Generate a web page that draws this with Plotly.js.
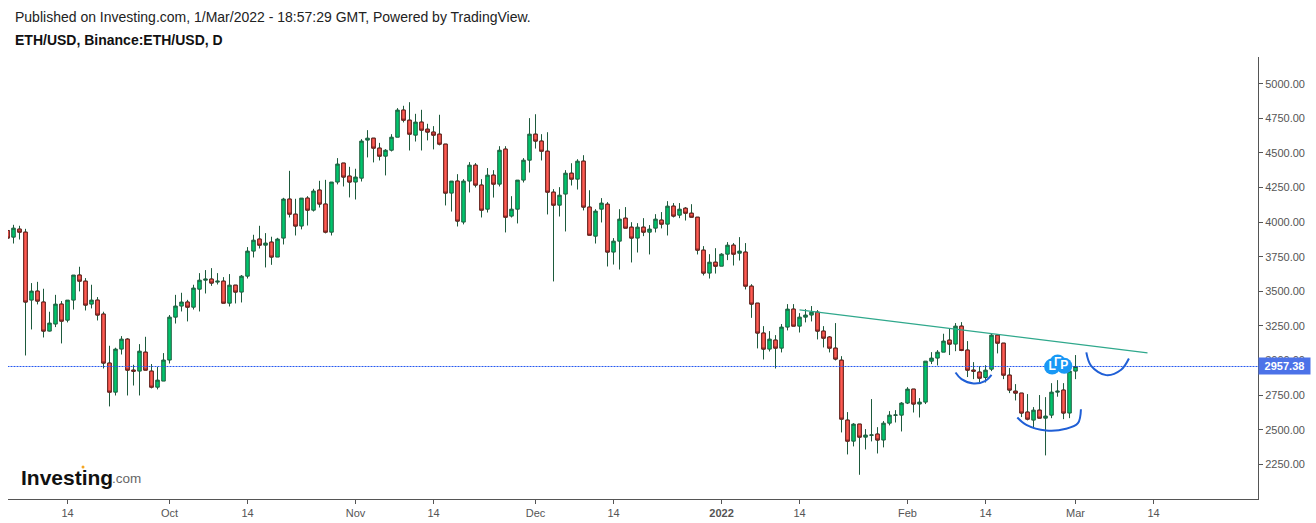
<!DOCTYPE html>
<html><head><meta charset="utf-8"><script src="https://cdn.plot.ly/plotly-3.0.1.min.js"></script>
<style>html,body{margin:0;padding:0;background:#fff}#c{width:1316px;height:523px}</style></head>
<body><div id="c"></div>
<script>
const startDay = '2021-09-04';
const opens = [3940,3892,3950,3928,3437,3502,3423,3213,3264,3408,3292,3437,3618,3574,3408,3437,3336,2982,2772,3083,3155,2931,2924,3061,2924,2808,2852,3004,3314,3394,3423,3386,3516,3581,3589,3567,3574,3415,3545,3495,3610,
3791,3878,3834,3856,3748,3885,4167,4058,3972,4174,4087,4232,4131,3928,4290,4427,4333,4290,4318,4593,4607,4535,4477,4520,4614,4810,4737,4629,4723,4672,4651,4636,4564,4210,4297,4001,4297,4412,4268,4094,
4340,4275,4528,4044,4094,4304,4448,4636,4586,4513,4217,4123,4203,4354,4311,4441,4109,3899,4094,4130,3784,3863,4029,3964,3885,3964,3928,3957,4015,3986,4116,4051,4101,4065,4036,3798,3632,3711,3682,3769,3834,3776,3784,
3538,3415,3199,3083,3148,3090,3242,3372,3249,3314,3329,3350,3213,3170,3090,3003,2570,2418,2541,2447,2460,2469,2426,2548,2605,2606,2693,2794,2686,2700,2996,3018,
3061,3148,3119,3249,3076,2931,2917,2878,2938,3184,3126,2895,2779,2765,2628,2570,2642,2584,2606,2772,2787,2621,2924];
const highs = [3950,3981,3974,3952,3560,3569,3519,3353,3475,3430,3437,3618,3678,3596,3548,3459,3353,3107,3093,3177,3162,2970,3119,3172,2975,2955,3054,3329,3475,3490,3439,3548,3632,3654,3668,3632,3603,3625,3545,3618,3820,
3909,3974,3921,3895,3887,4176,4371,4169,4174,4188,4241,4299,4306,4290,4463,4427,4400,4386,4600,4665,4607,4573,4528,4636,4824,4841,4867,4783,4812,4711,4694,4776,4564,4297,4347,4311,4434,4427,4311,4391,
4376,4549,4549,4188,4304,4463,4752,4780,4636,4650,4239,4253,4376,4426,4455,4484,4231,4094,4174,4145,3885,4094,4109,4000,3993,4029,3979,4058,4073,4152,4138,4138,4109,4130,4036,3827,3769,3812,3776,3856,3849,3892,3849,
3552,3415,3249,3213,3184,3264,3408,3408,3343,3372,3394,3365,3249,3177,3271,3032,2628,2548,2541,2505,2722,2519,2563,2635,2642,2700,2808,2794,2729,2996,3061,3076,
3194,3235,3271,3278,3141,2989,2960,2967,3198,3191,3126,2946,2830,2765,2758,2664,2751,2736,2837,2859,2837,2940,3040];
const lows = [3880,3846,3875,3037,3225,3406,3167,3210,3242,3124,3276,3369,3500,3362,3377,3290,2943,2669,2748,3044,2748,2820,2748,2931,2799,2792,2852,2979,3268,3355,3283,3369,3355,3485,3540,3550,3415,3391,3413,3420,3593,
3745,3810,3673,3692,3748,3839,4034,3904,3948,3976,4077,4106,3919,3904,4273,4258,4179,4164,4294,4468,4432,4446,4338,4511,4614,4721,4518,4583,4518,4591,4526,4555,4121,4077,3969,3984,4215,4251,4034,4070,
4178,4258,3926,4034,3991,4287,4359,4532,4446,4056,3572,4041,3933,4265,4236,4085,3906,3846,3998,3680,3694,3658,3957,3709,3781,3899,3767,3926,3955,3904,4034,4029,4012,4036,3767,3615,3593,3629,3682,3726,3687,3723,3514,
3309,3088,3008,3066,2943,3059,3218,3249,3203,3276,3283,3153,3095,3059,3001,2481,2322,2380,2175,2358,2416,2329,2373,2532,2553,2488,2686,2625,2589,2686,2975,2965,
3061,3040,3068,3068,2881,2866,2844,2842,2924,3052,2866,2765,2712,2592,2568,2510,2584,2315,2584,2739,2577,2584,2866];
const closes = [3885,3957,3928,3423,3502,3430,3213,3271,3408,3285,3437,3618,3574,3401,3437,3329,2982,2772,3083,3155,2931,2924,3068,2931,2808,2859,3004,3314,3394,3423,3386,3524,3581,3589,3560,3574,3415,3545,3495,3610,3791,
3870,3834,3849,3748,3878,4167,4058,3972,4174,4087,4225,4131,3928,4290,4420,4326,4290,4326,4586,4607,4535,4477,4520,4614,4810,4737,4636,4723,4665,4651,4629,4564,4210,4297,4008,4297,4412,4268,4087,4340,
4275,4520,4036,4094,4304,4448,4636,4586,4513,4217,4123,4195,4354,4311,4441,4109,3906,4080,4138,3784,3863,4022,3957,3885,3964,3928,3950,4022,3986,4116,4044,4094,4065,4036,3798,3632,3711,3682,3769,3834,3769,3791,3538,
3408,3199,3083,3155,3090,3242,3372,3249,3314,3329,3350,3213,3162,3090,3011,2577,2418,2541,2447,2462,2463,2426,2548,2606,2607,2693,2794,2686,2700,2996,3018,3061,
3141,3119,3249,3073,2931,2924,2873,2931,3184,3126,2895,2787,2765,2621,2577,2642,2584,2599,2772,2779,2621,2924,2957.38];
const lastPrice = 2957.38;
const priceTicks = [5000,4750,4500,4250,4000,3750,3500,3250,3000,2750,2500,2250];
const dateTicks = ['2021-09-14','2021-10-01','2021-10-14','2021-11-01','2021-11-14','2021-12-01','2021-12-14','2022-01-01','2022-01-14','2022-02-01','2022-02-14','2022-03-01','2022-03-14'];
const dateLabels = ['14','Oct','14','Nov','14','Dec','14','<b>2022</b>','14','Feb','14','Mar','14'];
const trendDays = [132,190];
const trendPrices = [3367,3056];
const curveADays = [158,159,161,163,164];
const curveAPrices = [2914,2866,2835,2854,2897];
const curveBDays = [168.3,169.8,173.1,176.4,178.4,178.9];
const curveBPrices = [2589,2536,2495,2507,2548,2649];
const curveCDays = [179.8,180.6,183.1,185.6,186.9];
const curveCPrices = [3059,2962,2895,2934,3015];
const flagDays = [174.1,175.03,176.13];
const flagPrices = [2957,2986,2962];
const flagText = ['L','Γ','P'];

const DAY = 864e5, t0 = Date.parse(startDay+'T00:00:00Z');
const iso = d => new Date(t0 + d*DAY).toISOString().slice(0,19).replace('T',' ');
const dates = opens.map((_,i)=>iso(i));
const WICK='#1d5a3c', RED='#ff5b52', REDLINE='#6e1c1c', GREEN='#00c46c';
const redIdx = opens.map((o,i)=>closes[i]<o?i:-1).filter(i=>i>=0);
const pick=(a,idx)=>idx.map(i=>a[i]);
const traces=[
 {type:'candlestick',x:dates,open:opens,high:highs,low:lows,close:closes,whiskerwidth:0,
  increasing:{line:{color:WICK,width:1},fillcolor:GREEN},decreasing:{line:{color:WICK,width:1},fillcolor:RED},hoverinfo:'skip',showlegend:false},
 {type:'candlestick',x:pick(dates,redIdx),open:pick(opens,redIdx),high:pick(opens,redIdx),low:pick(closes,redIdx),close:pick(closes,redIdx),whiskerwidth:0,
  increasing:{line:{color:REDLINE,width:1},fillcolor:RED},decreasing:{line:{color:REDLINE,width:1},fillcolor:RED},hoverinfo:'skip',showlegend:false},
 {type:'scatter',mode:'lines',x:trendDays.map(iso),y:trendPrices,line:{color:'#2fa88c',width:1.2},showlegend:false,hoverinfo:'skip'},
 {type:'scatter',mode:'lines',x:[iso(-1),iso(209)],y:[lastPrice,lastPrice],line:{color:'#2457f0',width:1,dash:'2px,1px'},showlegend:false,hoverinfo:'skip'},
 ...[[curveADays,curveAPrices],[curveBDays,curveBPrices],[curveCDays,curveCPrices]].map(([d,p])=>({type:'scatter',mode:'lines',x:d.map(iso),y:p,line:{color:'#1f5fd6',width:2,shape:'spline',smoothing:1},showlegend:false,hoverinfo:'skip'})),
 {type:'scatter',mode:'markers+text',x:flagDays.map(iso),y:flagPrices,text:flagText.map(t=>'<b>'+t+'</b>'),textposition:'middle center',textfont:{color:'#fff',size:12,family:'Liberation Sans'},marker:{size:16,color:'#1898f5'},showlegend:false,hoverinfo:'skip'}
];
const px=(x)=>(x-8)/1250, py=(y)=>(499-y)/442;
const F='Liberation Sans, Arial, sans-serif';
const layout={width:1316,height:523,margin:{l:8,r:58,t:57,b:24,pad:0},paper_bgcolor:'#fff',plot_bgcolor:'#fff',boxgap:0.16,showlegend:false,
 font:{family:F,size:11,color:'#555'},
 xaxis:{type:'date',range:[iso(0.0833),iso(208.4133)],rangeslider:{visible:false},tickmode:'array',tickvals:dateTicks,ticktext:dateLabels,showgrid:false,zeroline:false,showline:true,linecolor:'#555',linewidth:1,ticks:'outside',ticklen:4,tickcolor:'#555',tickfont:{family:F,size:11,color:'#555'}},
 yaxis:{side:'right',range:[2000,5193.5],tickmode:'array',tickvals:priceTicks,ticktext:priceTicks.map(v=>v.toFixed(2)),showgrid:false,zeroline:false,showline:true,linecolor:'#555',linewidth:1,ticks:'outside',ticklen:4,tickcolor:'#555',tickfont:{family:F,size:11,color:'#555'}},
 shapes:[{type:'circle',xref:'paper',yref:'paper',x0:px(81.5),x1:px(84.5),y0:py(468.5),y1:py(465.5),fillcolor:'#f5a623',line:{width:0}}],
 annotations:[
  {xref:'paper',yref:'paper',x:px(13),y:py(17),xanchor:'left',yanchor:'middle',showarrow:false,text:'Published on Investing.com, 1/Mar/2022 - 18:57:29 GMT, Powered by TradingView.',font:{family:F,size:14,color:'#222'}},
  {xref:'paper',yref:'paper',x:px(13),y:py(40),xanchor:'left',yanchor:'middle',showarrow:false,text:'<b>ETH/USD, Binance:ETH/USD, D</b>',font:{family:F,size:14,color:'#111'}},
  {xref:'paper',yref:'y',x:1,y:lastPrice,xanchor:'left',yanchor:'middle',showarrow:false,text:'<b>2957.38</b>',width:51,height:16,bgcolor:'#4c72e8',borderpad:0,font:{family:F,size:11,color:'#fff'}},
  {xref:'paper',yref:'paper',x:px(18.5),y:py(477),xanchor:'left',yanchor:'middle',showarrow:false,text:'<b>Investing</b>',font:{family:F,size:21,color:'#111'}},
  {xref:'paper',yref:'paper',x:px(110),y:py(478.5),xanchor:'left',yanchor:'middle',showarrow:false,text:'.com',font:{family:F,size:13.5,color:'#666'}}
 ]};
Plotly.newPlot('c',traces,layout,{displayModeBar:false,staticPlot:true});
</script></body></html>
